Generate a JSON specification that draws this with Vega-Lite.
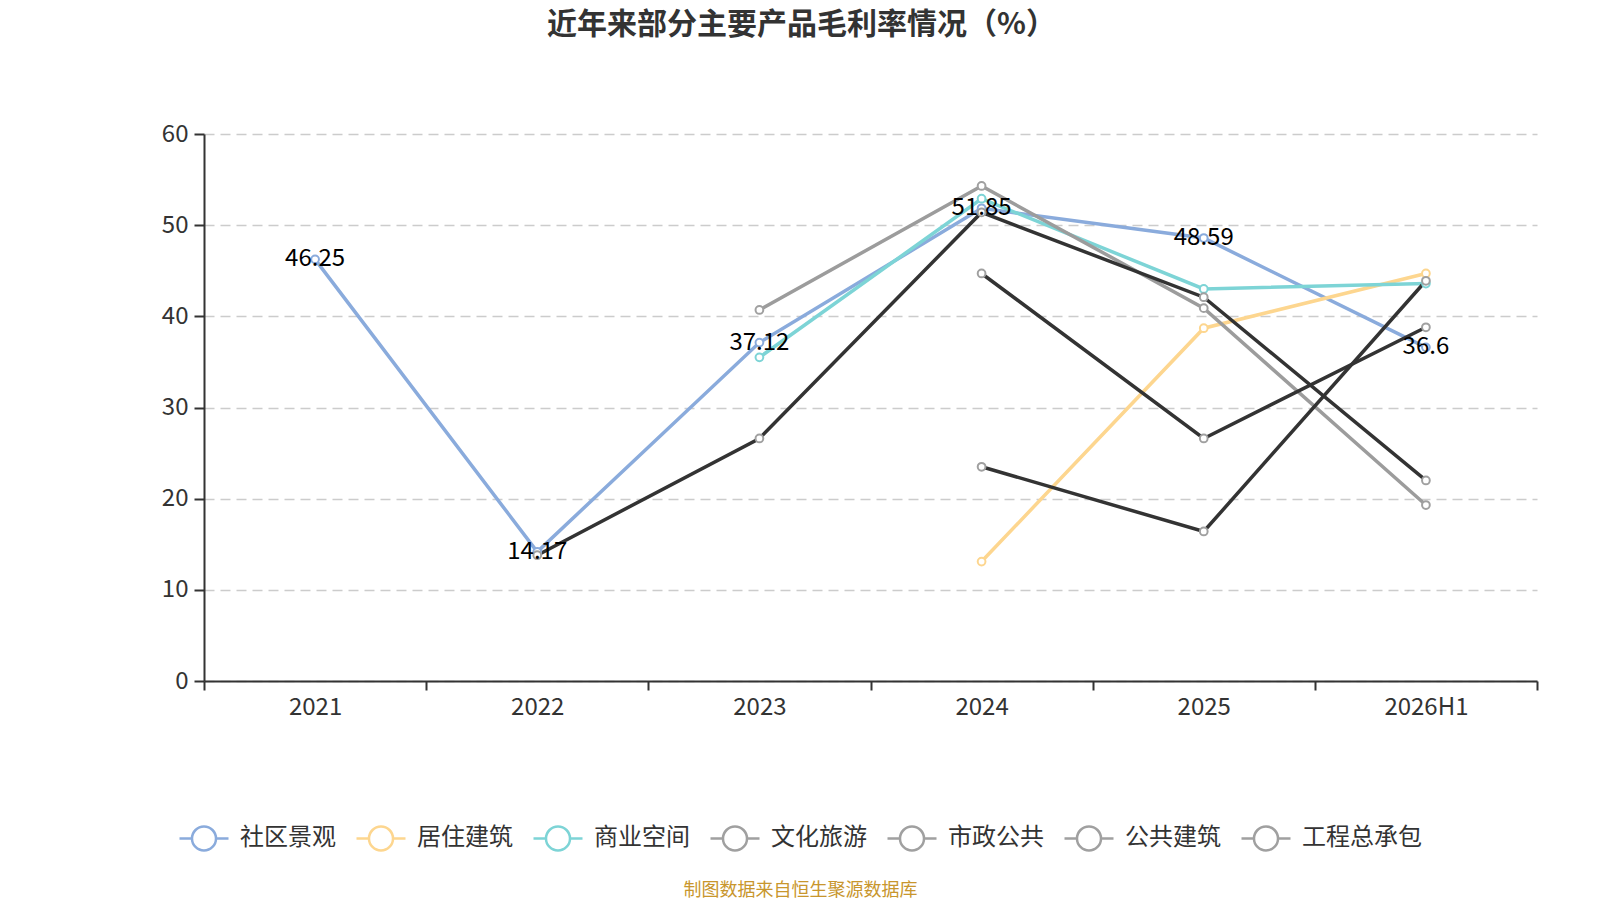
{
  "$schema": "https://vega.github.io/schema/vega-lite/v6.json",
  "width": 1333,
  "height": 547,
  "autosize": {"type": "none"},
  "padding": {"left": 204, "top": 134, "right": 63, "bottom": 219},
  "background": "white",
  "config": {"font": "Noto Sans CJK SC", "view": {"stroke": null}},
  "title": {
    "text": "近年来部分主要产品毛利率情况（%）",
    "fontSize": 30,
    "fontWeight": "bold",
    "color": "#333333",
    "anchor": "middle",
    "frame": "group",
    "dx": -69,
    "offset": 82
  },
  "data": {
    "values": [
      {"year": "2021", "series": "社区景观", "value": 46.25},
      {"year": "2022", "series": "社区景观", "value": 14.17},
      {"year": "2023", "series": "社区景观", "value": 37.12},
      {"year": "2024", "series": "社区景观", "value": 51.85},
      {"year": "2025", "series": "社区景观", "value": 48.59},
      {"year": "2026H1", "series": "社区景观", "value": 36.6},
      {"year": "2024", "series": "居住建筑", "value": 13.1},
      {"year": "2025", "series": "居住建筑", "value": 38.7},
      {"year": "2026H1", "series": "居住建筑", "value": 44.7},
      {"year": "2023", "series": "商业空间", "value": 35.5},
      {"year": "2024", "series": "商业空间", "value": 52.9},
      {"year": "2025", "series": "商业空间", "value": 43.0},
      {"year": "2026H1", "series": "商业空间", "value": 43.6},
      {"year": "2023", "series": "文化旅游", "value": 40.7},
      {"year": "2024", "series": "文化旅游", "value": 54.3},
      {"year": "2025", "series": "文化旅游", "value": 40.9},
      {"year": "2026H1", "series": "文化旅游", "value": 19.3},
      {"year": "2024", "series": "市政公共", "value": 44.7},
      {"year": "2025", "series": "市政公共", "value": 26.6},
      {"year": "2026H1", "series": "市政公共", "value": 38.8},
      {"year": "2024", "series": "公共建筑", "value": 23.5},
      {"year": "2025", "series": "公共建筑", "value": 16.4},
      {"year": "2026H1", "series": "公共建筑", "value": 43.9},
      {"year": "2022", "series": "工程总承包", "value": 13.8},
      {"year": "2023", "series": "工程总承包", "value": 26.6},
      {"year": "2024", "series": "工程总承包", "value": 51.4},
      {"year": "2025", "series": "工程总承包", "value": 42.1},
      {"year": "2026H1", "series": "工程总承包", "value": 22.0}
    ]
  },
  "encoding": {
    "x": {
      "field": "year",
      "type": "ordinal",
      "sort": ["2021", "2022", "2023", "2024", "2025", "2026H1"],
      "scale": {"type": "band", "paddingInner": 0, "paddingOuter": 0},
      "axis": {
        "labelAngle": 0,
        "labelFontSize": 24,
        "labelColor": "#333333",
        "labelPadding": 5,
        "domainColor": "#333333",
        "domainWidth": 2,
        "tickColor": "#333333",
        "tickWidth": 2,
        "tickSize": 9,
        "tickBand": "extent",
        "grid": false,
        "title": "制图数据来自恒生聚源数据库",
        "titleFontSize": 18,
        "titleFontWeight": "normal",
        "titleColor": "#c8962d",
        "titleX": 596,
        "titleY": 209,
        "titleAlign": "center",
        "titleBaseline": "middle"
      }
    },
    "y": {
      "field": "value",
      "type": "quantitative",
      "scale": {"domain": [0, 60]},
      "axis": {
        "values": [0, 10, 20, 30, 40, 50, 60],
        "title": null,
        "labelFontSize": 24,
        "labelColor": "#333333",
        "labelPadding": 6,
        "domainColor": "#333333",
        "domainWidth": 2,
        "tickColor": "#333333",
        "tickWidth": 2,
        "tickSize": 10,
        "grid": true,
        "gridColor": "#cccccc",
        "gridWidth": 1.5,
        "gridDash": [10, 6]
      }
    }
  },
  "resolve": {"scale": {"color": "independent"}, "legend": {"color": "independent"}},
  "layer": [
    {
      "mark": {"type": "line", "strokeWidth": 3.5},
      "encoding": {
        "color": {
          "field": "series",
          "type": "nominal",
          "scale": {
            "domain": ["社区景观", "居住建筑", "商业空间", "文化旅游", "市政公共", "公共建筑", "工程总承包"],
            "range": ["#8aabdc", "#fdd68f", "#7dd4d6", "#9c9c9c", "#333333", "#333333", "#333333"]
          },
          "legend": null
        }
      }
    },
    {
      "mark": {"type": "point", "shape": "circle", "filled": false, "fill": "white", "size": 60, "strokeWidth": 2, "opacity": 1},
      "encoding": {
        "color": {
          "field": "series",
          "type": "nominal",
          "scale": {
            "domain": ["社区景观", "居住建筑", "商业空间", "文化旅游", "市政公共", "公共建筑", "工程总承包"],
            "range": ["#8aabdc", "#fdd68f", "#7dd4d6", "#a0a0a0", "#a0a0a0", "#a0a0a0", "#a0a0a0"]
          },
          "legend": {
            "title": null,
            "orient": "none",
            "legendX": -26,
            "legendY": 678,
            "direction": "horizontal",
            "symbolType": "M-1,0L-0.49,0M0.49,0L1,0M0.49,0A0.49,0.49,0,1,1,-0.49,0A0.49,0.49,0,1,1,0.49,0Z",
            "symbolSize": 2401,
            "symbolStrokeWidth": 2.5,
            "labelFontSize": 24,
            "labelColor": "#333333",
            "labelOffset": 10,
            "labelLimit": 200,
            "columnPadding": 15
          }
        }
      }
    },
    {
      "transform": [{"filter": "datum.series == '社区景观'"}],
      "mark": {"type": "text", "fontSize": 24, "color": "#000000", "baseline": "middle", "dy": 0},
      "encoding": {"text": {"field": "value", "type": "quantitative"}}
    }
  ]
}
